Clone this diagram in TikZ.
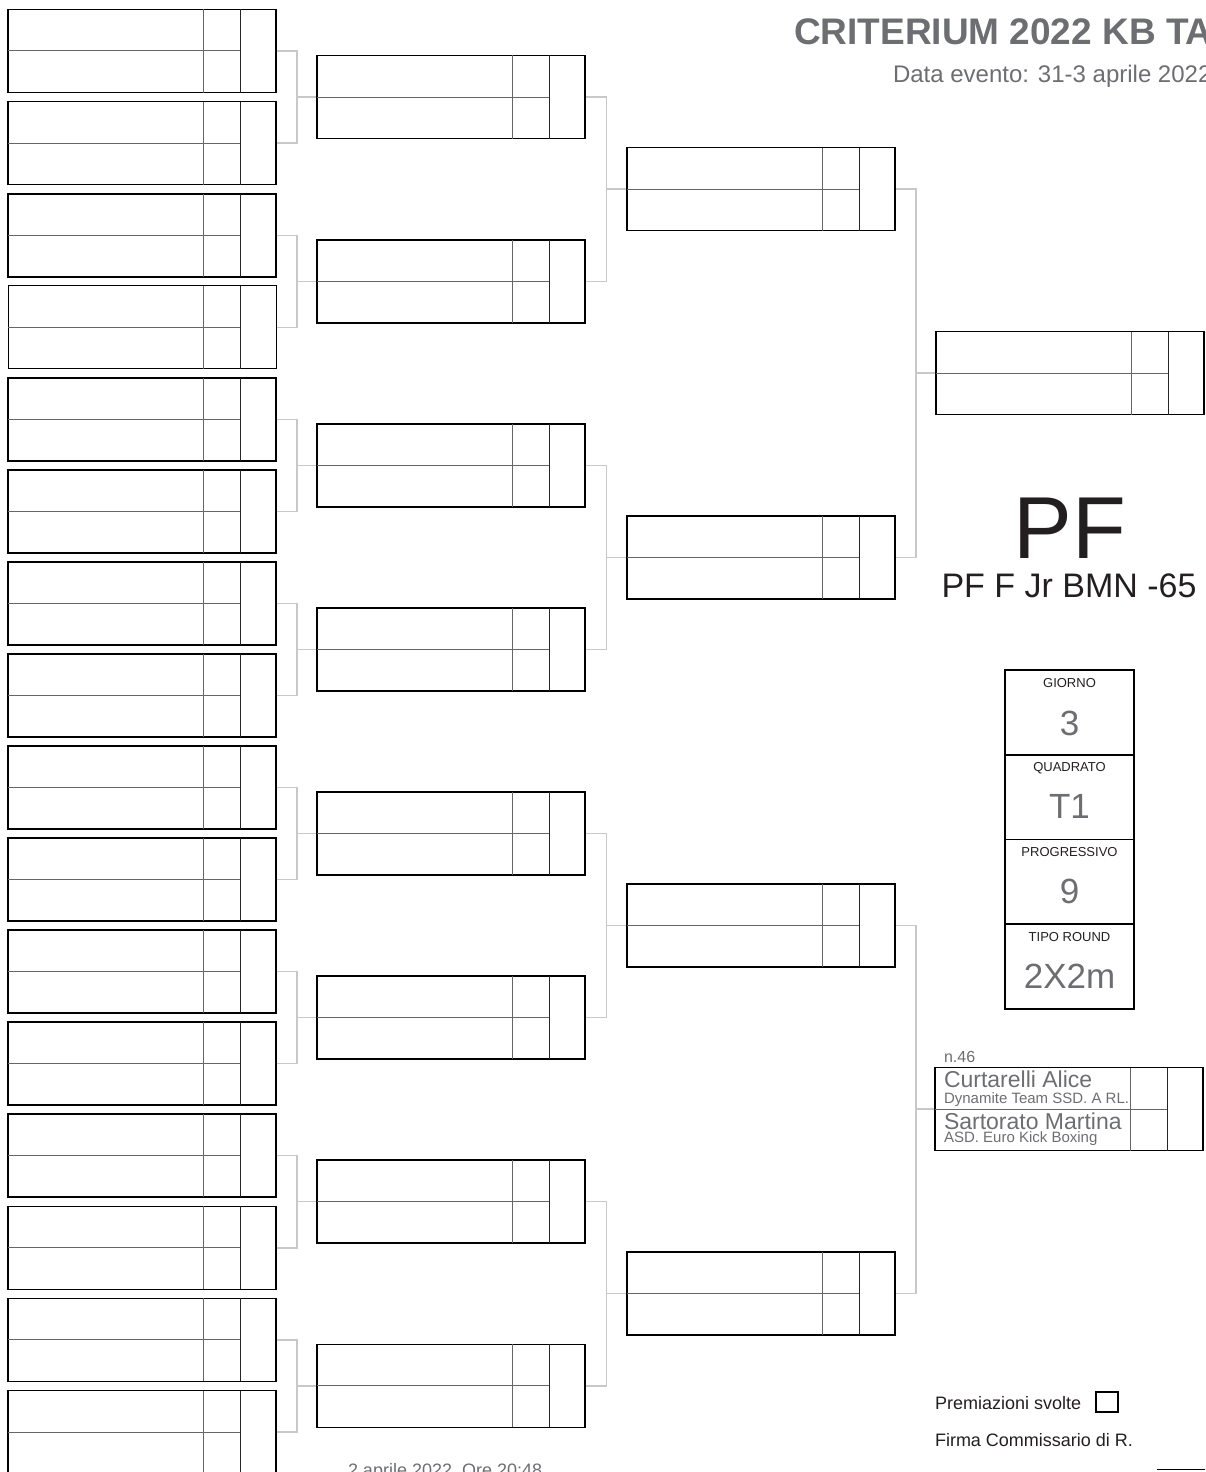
\documentclass[tikz,border=0pt]{standalone}
\usepackage{fontspec}
\setmainfont{Liberation Sans}
\usetikzlibrary{calc,backgrounds}
\definecolor{txtgray}{RGB}{109,110,113}
\definecolor{ink}{RGB}{35,31,32}
\definecolor{conngray}{RGB}{200,200,200}
\newcommand{\fs}[1]{\fontsize{#1}{#1}\selectfont}
\newcommand{\MB}[4]{% name, x, ymid, line width
  \node[mbox, line width=#4] (#1) at (#2,#3) {};
  \draw[divA] ([xshift=195pt]#1.north west) -- ([xshift=195pt]#1.south west);
  \draw[divA] (#1.west) -- ([xshift=232pt]#1.west);
  \draw[divB] ([xshift=232pt]#1.north west) -- ([xshift=232pt]#1.south west);
}
\begin{document}
\begin{tikzpicture}[x=1pt,y=-1pt,
  mbox/.style={draw=black, minimum width=268pt, minimum height=83pt, inner sep=0pt, outer sep=0pt, anchor=west},
  divA/.style={draw=black!60, line width=1pt},
  divB/.style={draw=black!85, line width=1pt},
  conn/.style={draw=conngray, line width=1.2pt},
  lbl/.style={inner sep=0pt, outer sep=0pt, anchor=base west},
  ctr/.style={inner sep=0pt, outer sep=0pt, anchor=base},
  cell/.style={draw=black, line width=1.8pt, minimum width=129pt, minimum height=84.75pt, inner sep=0pt, outer sep=0pt},
]
\useasboundingbox (0,0) rectangle (1205,1472);
\clip (0,0) rectangle (1205,1472);

% round 1
\foreach \i in {0,...,15}{
  \pgfmathsetmacro\yy{51+92.07*\i}
  \pgfmathsetmacro\lw{\i==3 ? 1 : 1.8}
  \MB{a\i}{8}{\yy}{\lw pt}
}
% round 2
\foreach \j in {0,...,7}{
  \pgfmathsetmacro\yy{97+184.14*\j}
  \MB{b\j}{317}{\yy}{1.8pt}
}
% round 3
\foreach \k in {0,...,3}{
  \pgfmathsetmacro\yy{189+368.28*\k}
  \MB{c\k}{627}{\yy}{1.8pt}
}
% round 4
\MB{d0}{936}{373}{1.8pt}
\MB{d1}{935}{1109}{1.8pt}

% connectors
\begin{pgfonlayer}{background}
\foreach \j in {0,...,7}{
  \pgfmathtruncatemacro\p{2*\j}
  \pgfmathtruncatemacro\q{2*\j+1}
  \coordinate (jb\j) at ([xshift=-20pt]b\j.west);
  \draw[conn] (a\p.east) -| (jb\j) |- (a\q.east);
  \draw[conn] (jb\j) -- (b\j.west);
}
\foreach \k in {0,...,3}{
  \pgfmathtruncatemacro\p{2*\k}
  \pgfmathtruncatemacro\q{2*\k+1}
  \coordinate (jc\k) at ([xshift=-20.5pt]c\k.west);
  \draw[conn] (b\p.east) -| (jc\k) |- (b\q.east);
  \draw[conn] (jc\k) -- (c\k.west);
}
\coordinate (jd0) at ([xshift=-20pt]d0.west);
\draw[conn] (c0.east) -| (jd0) |- (c1.east);
\draw[conn] (jd0) -- (d0.west);
\coordinate (jd1) at ([xshift=-19pt]d1.west);
\draw[conn] (c2.east) -| (jd1) |- (c3.east);
\draw[conn] (jd1) -- (d1.west);
\end{pgfonlayer}

% title
\node[lbl] (title) at (794,45) {\fs{37}\bfseries\color{txtgray}CRITERIUM 2022 KB TA};
\node[lbl] (date) at (893,82) {\fs{24}\color{txtgray}Data evento: 31-3 aprile 2022};

% category
\node[ctr] (pf) at (1070,558) {\fs{88}\color{ink}PF};
\node[ctr] (cat) at (1069,597) {\fs{34}\color{ink}PF F Jr BMN -65};

% info cells
\node[cell] (g1) at (1069.5,712.4) {};
\node[cell] (g2) at (1069.5,797.1) {};
\node[cell] (g3) at (1069.5,881.9) {};
\node[cell] (g4) at (1069.5,966.6) {};
\node[ctr] (g1l) at (1069.5,687) {\fs{13}\color{ink}GIORNO};
\node[ctr] (g1v) at (1069.5,735) {\fs{35}\color{txtgray}3};
\node[ctr] (g2l) at (1069.5,771.5) {\fs{13}\color{ink}QUADRATO};
\node[ctr] (g2v) at (1069.5,818) {\fs{35}\color{txtgray}T1};
\node[ctr] (g3l) at (1069.5,856.5) {\fs{13}\color{ink}PROGRESSIVO};
\node[ctr] (g3v) at (1069.5,903) {\fs{35}\color{txtgray}9};
\node[ctr] (g4l) at (1069.5,941) {\fs{13}\color{ink}TIPO ROUND};
\node[ctr] (g4v) at (1069.5,988) {\fs{35}\color{txtgray}2X2m};

% match n.46
\node[lbl] (n46) at (944,1062) {\fs{16}\color{txtgray}n.46};
\node[lbl] (f1) at (944,1087) {\fs{23}\color{txtgray}Curtarelli Alice};
\node[lbl] (f1c) at (944,1103.5) {\fs{15}\color{txtgray}Dynamite Team SSD. A RL.};
\node[lbl] (f2) at (944,1129.5) {\fs{23}\color{txtgray}Sartorato Martina};
\node[lbl] (f2c) at (944,1142) {\fs{15}\color{txtgray}ASD. Euro Kick Boxing};

% footer
\node[lbl] (prem) at (935,1409) {\fs{18}\color{ink}Premiazioni svolte};
\node[draw=black, line width=1.5pt, minimum width=22pt, minimum height=20pt, inner sep=0pt] (chk) at (1107,1402) {};
\node[lbl] (firma) at (935,1446) {\fs{18}\color{ink}Firma Commissario di R.};
\coordinate (fl1) at (1157,1469);
\coordinate (fl2) at (1210,1469);
\draw[line width=1pt, black] (fl1) -- (fl2);
\node[lbl] (stamp) at (348,1476) {\fs{18}\color{txtgray}2 aprile 2022~ Ore 20:48};
\end{tikzpicture}
\end{document}
